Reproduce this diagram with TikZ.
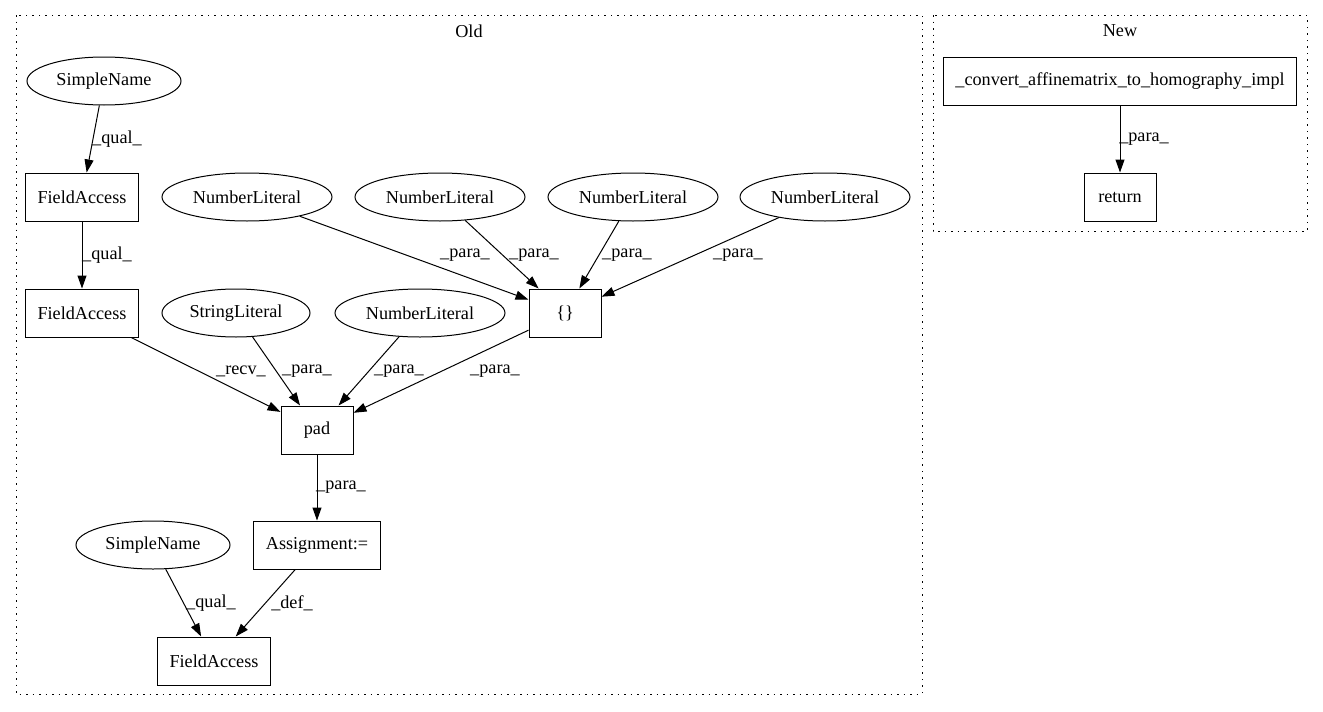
\documentclass[tikz,border=0pt]{standalone}
\usepackage{fontspec}
\setmainfont{Liberation Serif}
\usetikzlibrary{arrows.meta, shapes.geometric}
\newcommand{\dotfont}{\fontsize{18.2pt}{21pt}\selectfont}
\tikzset{>= {Triangle[length = 13pt, width = 9pt]},
         lit/.style = {draw, ellipse, line width = 1pt, font = \dotfont,
                       minimum height = 48pt, inner sep = 0pt},
         stmt/.style = {draw, rectangle, line width = 1pt, font = \dotfont,
                        minimum width = 72pt, minimum height = 48pt,
                        inner xsep = 12pt},
         lbl/.style = {inner sep = 0pt, font = \dotfont},
         cluster/.style = {draw, line width = 1pt,
                           dash pattern = on 1.5pt off 5pt},
         every edge/.style = {draw, ->, line width = 1pt}}

\begin{document}
\begin{tikzpicture}[x = 1pt, y = -1pt, font = \dotfont]
        \useasboundingbox (0,0) rectangle (1323,712);

        % clusters
        \draw[cluster] (16,15)  rectangle (922,694);
        \draw[cluster] (933,15) rectangle (1307,231);
        \node[lbl] (old) at (469,31)  {Old};
        \node[lbl] (new) at (1120,31) {New};

        % old
        \node[lit, minimum width = 154pt]  (sn1) at (104,81)  {SimpleName};
        \node[stmt]                        (fa1) at (82,197)  {FieldAccess};
        \node[stmt]                        (fa2) at (82,313)  {FieldAccess};
        \node[lit, minimum width = 170pt]  (nl1) at (247,197) {NumberLiteral};
        \node[lit, minimum width = 170pt]  (nl2) at (440,197) {NumberLiteral};
        \node[lit, minimum width = 170pt]  (nl3) at (633,197) {NumberLiteral};
        \node[lit, minimum width = 170pt]  (nl4) at (825,197) {NumberLiteral};
        \node[stmt]                        (arr) at (565,313) {\{\}};
        \node[lit, minimum width = 148pt]  (sl)  at (236,313) {StringLiteral};
        \node[lit, minimum width = 170pt]  (nl5) at (420,313) {NumberLiteral};
        \node[stmt]                        (pad) at (317,430) {pad};
        \node[stmt]                        (asg) at (317,545) {Assignment:=};
        \node[lit, minimum width = 154pt]  (sn2) at (153,545) {SimpleName};
        \node[stmt]                        (fa3) at (214,661) {FieldAccess};

        \path (sn1) edge (fa1);
        \path (fa1) edge (fa2);
        \path (nl1) edge (arr);
        \path (nl2) edge (arr);
        \path (nl3) edge (arr);
        \path (nl4) edge (arr);
        \path (fa2) edge (pad);
        \path (sl)  edge (pad);
        \path (nl5) edge (pad);
        \path (arr) edge (pad);
        \path (pad) edge (asg);
        \path (sn2) edge (fa3);
        \path (asg) edge (fa3);

        \node[lbl] (l1)  at (117,139) {\_qual\_};
        \node[lbl] (l2)  at (107,255) {\_qual\_};
        \node[lbl] (l3)  at (465,255) {\_para\_};
        \node[lbl] (l4)  at (534,255) {\_para\_};
        \node[lbl] (l5)  at (627,255) {\_para\_};
        \node[lbl] (l6)  at (738,255) {\_para\_};
        \node[lbl] (l7)  at (241,371) {\_recv\_};
        \node[lbl] (l8)  at (307,371) {\_para\_};
        \node[lbl] (l9)  at (399,371) {\_para\_};
        \node[lbl] (l10) at (495,371) {\_para\_};
        \node[lbl] (l11) at (341,487) {\_para\_};
        \node[lbl] (l12) at (211,603) {\_qual\_};
        \node[lbl] (l13) at (292,603) {\_def\_};

        % new
        \node[stmt] (cvt) at (1120,81)  {\_convert\_affinematrix\_to\_homography\_impl};
        \node[stmt] (ret) at (1120,197) {return};

        \path (cvt) edge (ret);
        \node[lbl] (l14) at (1144,139) {\_para\_};
\end{tikzpicture}
\end{document}
